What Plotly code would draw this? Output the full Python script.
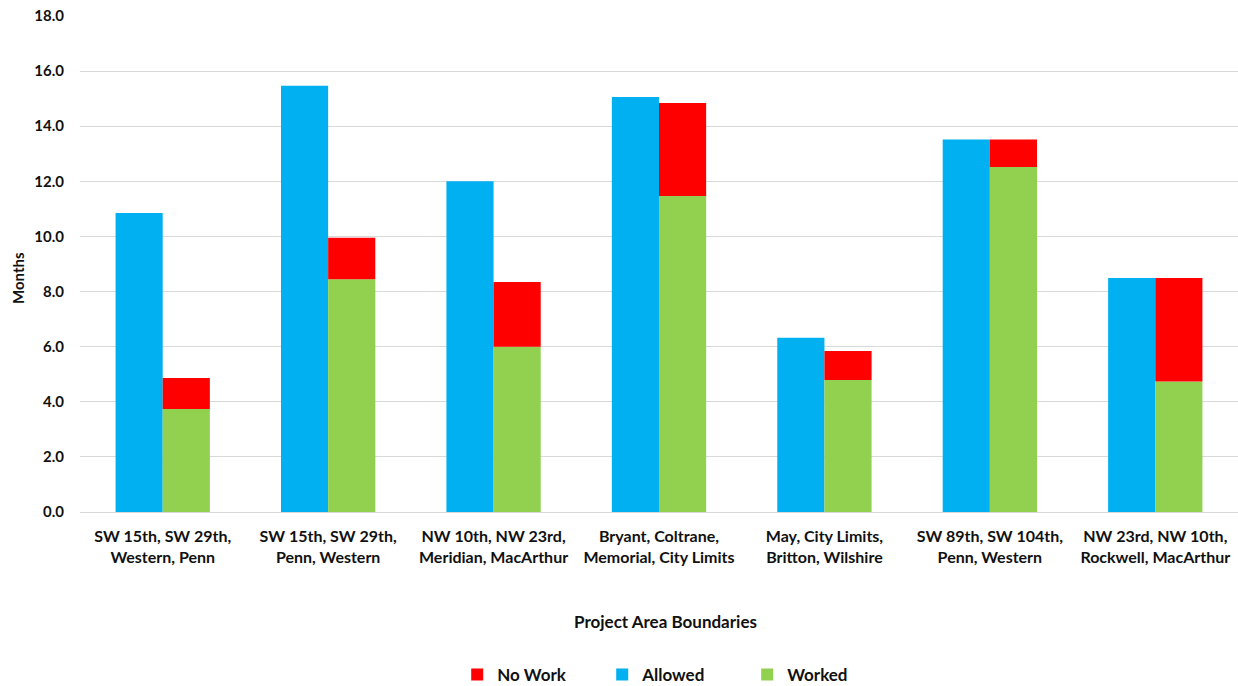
import plotly.graph_objects as go

categories = [
    "SW 15th, SW 29th,<br>Western, Penn",
    "SW 15th, SW 29th,<br>Penn, Western",
    "NW 10th, NW 23rd,<br>Meridian, MacArthur",
    "Bryant, Coltrane,<br>Memorial, City Limits",
    "May, City Limits,<br>Britton, Wilshire",
    "SW 89th, SW 104th,<br>Penn, Western",
    "NW 23rd, NW 10th,<br>Rockwell, MacArthur",
]
allowed = [10.85, 15.47, 12.0, 15.06, 6.32, 13.52, 8.49]
worked = [3.74, 8.45, 6.0, 11.47, 4.79, 12.52, 4.74]
no_work = [1.12, 1.5, 2.35, 3.37, 1.05, 1.0, 3.75]

BLUE = "#00B0F0"
GREEN = "#92D050"
RED = "#FF0000"
FONT = "Lato"

fig = go.Figure()
fig.add_trace(go.Bar(x=categories, y=allowed, name="Allowed", marker_color=BLUE,
                     offsetgroup="a", legendrank=2, marker_line_width=0))
fig.add_trace(go.Bar(x=categories, y=worked, name="Worked", marker_color=GREEN,
                     offsetgroup="b", legendrank=3, marker_line_width=0))
fig.add_trace(go.Bar(x=categories, y=no_work, base=worked, name="No Work", marker_color=RED,
                     offsetgroup="b", legendrank=1, marker_line_width=0))

fig.update_layout(
    width=1238, height=686,
    barmode="group", bargap=0.43, bargroupgap=0,
    paper_bgcolor="white", plot_bgcolor="white",
    margin=dict(l=80, r=0, t=16, b=174, autoexpand=False),
    font=dict(family=FONT, size=16, color="#111111", weight="bold"),
    showlegend=True,
    legend=dict(orientation="h", x=0.545, xref="container", xanchor="center",
                y=1 - 675 / 686, yref="container", yanchor="middle",
                font=dict(family=FONT, size=17, color="#111111", weight="bold"),
                itemwidth=30, entrywidth=100, bgcolor="rgba(0,0,0,0)"),
    xaxis=dict(showgrid=False, showline=True, linecolor="#d9d9d9", linewidth=1,
               ticks="outside", ticklen=10, tickcolor="rgba(0,0,0,0)",
               tickfont=dict(family=FONT, size=16, weight="bold")),
    yaxis=dict(range=[0, 18], dtick=2, tickformat=".1f", showgrid=True,
               gridcolor="#d9d9d9", gridwidth=1, zeroline=False, showline=False,
               ticks="outside", ticklen=12, tickcolor="rgba(0,0,0,0)",
               tickfont=dict(family=FONT, size=15, weight="bold")),
    annotations=[
        dict(text="Months", x=-(80 - 18) / 1158, y=(512 - 278) / 496, xref="paper", yref="paper",
             xanchor="center", yanchor="middle",
             showarrow=False, textangle=-90, font=dict(family=FONT, size=15, weight="bold")),
        dict(text="Project Area Boundaries", x=(666 - 80) / 1158, y=(512 - 621) / 496,
             xref="paper", yref="paper",
             xanchor="center", yanchor="middle", showarrow=False,
             font=dict(family=FONT, size=17, weight="bold")),
    ],
)

fig.write_html("out.html")
